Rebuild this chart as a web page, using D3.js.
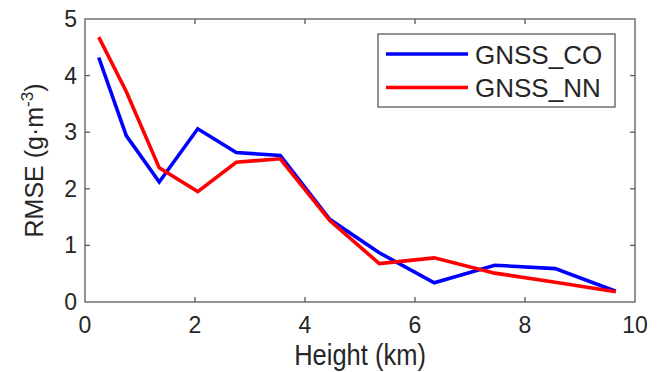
<!DOCTYPE html>
<html>
<head>
<meta charset="utf-8">
<script src="https://cdn.jsdelivr.net/npm/d3@7"></script>
<style>
  body { margin: 0; background: #fff; }
  text { font-family: Arial, "Liberation Sans", sans-serif; fill: #262626; }
</style>
</head>
<body>
<div id="chart"></div>
<script>
const heights = [0.25, 0.75, 1.35, 2.05, 2.75, 3.55, 4.45, 5.35, 6.35, 7.45, 8.55, 9.65];
const rmseCO = [4.32, 2.94, 2.12, 3.06, 2.64, 2.59, 1.46, 0.87, 0.34, 0.65, 0.59, 0.19];
const rmseNN = [4.68, 3.72, 2.37, 1.95, 2.47, 2.53, 1.44, 0.68, 0.78, 0.51, 0.35, 0.18];
const seriesNames = ["GNSS_CO", "GNSS_NN"];
const seriesColors = ["#0000ff", "#ff0000"];
const xTicks = [0, 2, 4, 6, 8, 10];
const yTicks = [0, 1, 2, 3, 4, 5];

const width = 664, height = 372;
const margin = {left: 85, right: 29, top: 19, bottom: 70};

const svg = d3.select("#chart").append("svg").attr("width", width).attr("height", height);

const x = d3.scaleLinear().domain([0, 10]).range([margin.left, width - margin.right]);
const y = d3.scaleLinear().domain([0, 5]).range([height - margin.bottom, margin.top]);

const axisColor = "#5a5a5a";

// frame
svg.append("rect")
    .attr("x", x(0)).attr("y", y(5))
    .attr("width", x(10) - x(0)).attr("height", y(0) - y(5))
    .attr("fill", "none").attr("stroke", axisColor).attr("stroke-width", 1.3);

// inner ticks (MATLAB style)
const ticks = svg.append("g").attr("stroke", axisColor).attr("stroke-width", 1.3);
xTicks.slice(1, -1).forEach(t => {
    ticks.append("line").attr("x1", x(t)).attr("x2", x(t)).attr("y1", y(0)).attr("y2", y(0) - 5);
    ticks.append("line").attr("x1", x(t)).attr("x2", x(t)).attr("y1", y(5)).attr("y2", y(5) + 5);
});
yTicks.slice(1, -1).forEach(t => {
    ticks.append("line").attr("x1", x(0)).attr("x2", x(0) + 5).attr("y1", y(t)).attr("y2", y(t));
    ticks.append("line").attr("x1", x(10)).attr("x2", x(10) - 5).attr("y1", y(t)).attr("y2", y(t));
});

// tick labels
svg.append("g").selectAll("text").data(xTicks).enter().append("text")
    .attr("x", d => x(d)).attr("y", y(0) + 31)
    .attr("text-anchor", "middle").attr("font-size", 23).text(d => d);
svg.append("g").selectAll("text").data(yTicks).enter().append("text")
    .attr("x", x(0) - 8).attr("y", d => y(d) + 8)
    .attr("text-anchor", "end").attr("font-size", 23).text(d => d);

// axis labels
svg.append("text")
    .attr("transform", `translate(${x(5)},365) scale(1,1.15)`)
    .attr("text-anchor", "middle").attr("font-size", 25.5).text("Height (km)");
const yl = svg.append("text")
    .attr("transform", `translate(43,${(y(0) + y(5)) / 2}) rotate(-90)`)
    .attr("text-anchor", "middle").attr("font-size", 25);
yl.append("tspan").text("RMSE (g\u00b7m");
yl.append("tspan").attr("dy", -10).attr("font-size", 17).text("-3");
yl.append("tspan").attr("dy", 10).text(")");

// lines
const line = d3.line().x((d, i) => x(heights[i])).y(d => y(d));
[rmseCO, rmseNN].forEach((vals, k) => {
    svg.append("path").datum(vals)
        .attr("d", line)
        .attr("fill", "none")
        .attr("stroke", seriesColors[k])
        .attr("stroke-width", 3.6)
        .attr("stroke-linejoin", "miter");
});

// legend
const lg = svg.append("g");
lg.append("rect").attr("x", 378).attr("y", 34).attr("width", 237).attr("height", 73)
    .attr("fill", "#fff").attr("stroke", axisColor).attr("stroke-width", 1.3);
seriesNames.forEach((name, k) => {
    const ly = 54 + k * 33.5;
    lg.append("line").attr("x1", 386).attr("x2", 468).attr("y1", ly).attr("y2", ly)
        .attr("stroke", seriesColors[k]).attr("stroke-width", 3.6);
    lg.append("text").attr("x", 475).attr("y", ly + 9.5)
        .attr("font-size", 26).attr("fill", "#000").text(name);
});
</script>
</body>
</html>
